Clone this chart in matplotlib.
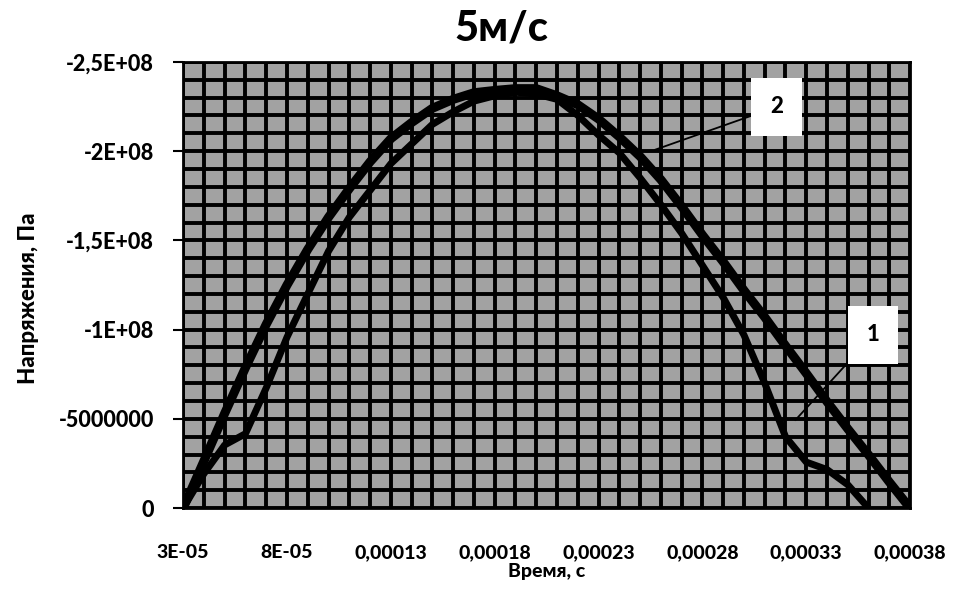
import matplotlib.pyplot as plt
from matplotlib.ticker import MultipleLocator, FixedLocator

plt.rcParams['font.family'] = ['Lato', 'DejaVu Sans']

# time, s
time = [3e-05, 4e-05, 5e-05, 6e-05, 7e-05, 8e-05, 9e-05, 0.0001, 0.00011, 0.00012,
        0.00013, 0.00014, 0.00015, 0.00016, 0.00017, 0.00018, 0.00019, 0.0002, 0.00021,
        0.00022, 0.00023, 0.00024, 0.00025, 0.00026, 0.00027, 0.00028, 0.00029, 0.0003,
        0.00031, 0.00032, 0.00033, 0.00034, 0.00035, 0.00036, 0.00037, 0.00038]

# curve 1 (smooth, wider)
stress_1 = [0, -2.64e7, -5.31e7, -7.87e7, -1.03e8, -1.25e8, -1.45e8, -1.63e8, -1.79e8,
            -1.94e8, -2.07e8, -2.16e8, -2.24e8, -2.29e8, -2.327e8, -2.34e8, -2.35e8,
            -2.35e8, -2.31e8, -2.26e8, -2.18e8, -2.08e8, -1.97e8, -1.84e8, -1.69e8,
            -1.53e8, -1.38e8, -1.22e8, -1.07e8, -9.1e7, -7.55e7, -5.96e7, -4.44e7,
            -2.98e7, -1.46e7, 0]

# curve 2 (with shoulders, narrower)
time_2 = time[:34]
stress_2 = [0, -1.93e7, -3.54e7, -4.17e7, -6.74e7, -9.58e7, -1.20e8, -1.44e8, -1.63e8,
            -1.78e8, -1.93e8, -2.04e8, -2.15e8, -2.22e8, -2.28e8, -2.31e8, -2.33e8,
            -2.32e8, -2.29e8, -2.20e8, -2.09e8, -1.99e8, -1.85e8, -1.70e8, -1.54e8,
            -1.36e8, -1.18e8, -9.7e7, -7.0e7, -4.0e7, -2.58e7, -2.16e7, -1.31e7, 0]

x_ticks = [3e-05, 8e-05, 0.00013, 0.00018, 0.00023, 0.00028, 0.00033, 0.00038]
x_labels = ['3E-05', '8E-05', '0,00013', '0,00018', '0,00023', '0,00028', '0,00033', '0,00038']
y_ticks = [0, -5e7, -1e8, -1.5e8, -2e8, -2.5e8]
y_labels = ['0', '-5000000', '-1E+08', '-1,5E+08', '-2E+08', '-2,5E+08']

fig = plt.figure(figsize=(9.54, 5.95), dpi=100)
ax = fig.add_axes([0.192, 0.146, 0.762, 0.75])
ax.set_facecolor('#a2a2a2')

ax.plot(time, stress_1, color='black', lw=6.5, solid_capstyle='butt', zorder=3)
ax.plot(time_2, stress_2, color='black', lw=5, solid_capstyle='butt', zorder=3)

ax.set_xlim(3e-05, 0.00038)
ax.set_ylim(0, -2.5e8)

ax.xaxis.set_major_locator(FixedLocator(x_ticks))
ax.set_xticklabels(x_labels)
ax.xaxis.set_minor_locator(MultipleLocator(1e-05))
ax.yaxis.set_major_locator(FixedLocator(y_ticks))
ax.set_yticklabels(y_labels)
ax.yaxis.set_minor_locator(MultipleLocator(1e7))

ax.grid(which='both', color='black', lw=2.8)
ax.set_axisbelow(True)
for s in ax.spines.values():
    s.set_linewidth(2)

ax.tick_params(axis='x', which='both', length=0, pad=26, labelsize=14)
ax.tick_params(axis='y', which='major', length=7, width=1.5, pad=14, labelsize=15.5)
ax.tick_params(axis='y', which='minor', length=0)
for lbl in ax.get_xticklabels() + ax.get_yticklabels():
    lbl.set_fontweight('black')

ax.set_xlabel('Время, с', fontsize=14, fontweight='black', labelpad=1)
ax.set_ylabel('Напряжения, Па', fontsize=16, fontweight='black', labelpad=14, y=0.47)
fig.text(0.526, 0.952, '5м/с', ha='center', va='center', fontsize=30, fontweight='black')

box = dict(boxstyle='square,pad=0.85', fc='white', ec='none')
ax.annotate('2', xy=(0.649, 0.803), xycoords='axes fraction',
            xytext=(0.816, 0.899), textcoords='axes fraction',
            ha='center', va='center', fontsize=16, fontweight='black', bbox=box,
            arrowprops=dict(arrowstyle='-', lw=1.3, color='black', shrinkA=0, shrinkB=0), zorder=5)
ax.annotate('1', xy=(0.842, 0.197), xycoords='axes fraction',
            xytext=(0.949, 0.388), textcoords='axes fraction',
            ha='center', va='center', fontsize=16, fontweight='black', bbox=box,
            arrowprops=dict(arrowstyle='-', lw=1.3, color='black', shrinkA=0, shrinkB=0), zorder=5)

fig.savefig('out.png', dpi=100)
